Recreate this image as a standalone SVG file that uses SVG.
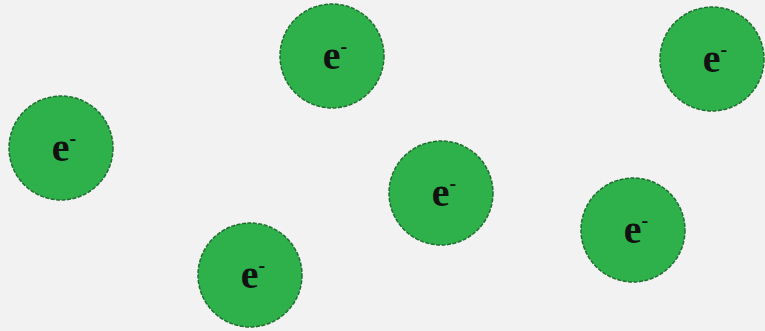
<svg xmlns="http://www.w3.org/2000/svg" width="765" height="331" viewBox="0 0 765 331">
<style>
.e circle{fill:#2eb14b;stroke:#1f6e30;stroke-width:1.5;stroke-dasharray:4 1.5}
.e text{font-family:"Liberation Serif",serif;font-weight:bold;font-size:40px;fill:#111;text-anchor:middle}
.e tspan{font-size:20px}
</style>
<rect width="765" height="331" fill="#f2f2f2"/>
<g id="e1" class="e"><circle cx="332" cy="56" r="52"/><text x="335" y="69">e<tspan dy="-16">-</tspan></text></g>
<g id="e2" class="e"><circle cx="61" cy="148" r="52"/><text x="64" y="161">e<tspan dy="-16">-</tspan></text></g>
<g id="e3" class="e"><circle cx="712" cy="59" r="52"/><text x="715" y="72">e<tspan dy="-16">-</tspan></text></g>
<g id="e4" class="e"><circle cx="441" cy="193" r="52"/><text x="444" y="206">e<tspan dy="-16">-</tspan></text></g>
<g id="e5" class="e"><circle cx="633" cy="230" r="52"/><text x="636" y="243">e<tspan dy="-16">-</tspan></text></g>
<g id="e6" class="e"><circle cx="250" cy="275" r="52"/><text x="253" y="288">e<tspan dy="-16">-</tspan></text></g>
<g id="connectors"/>
</svg>
